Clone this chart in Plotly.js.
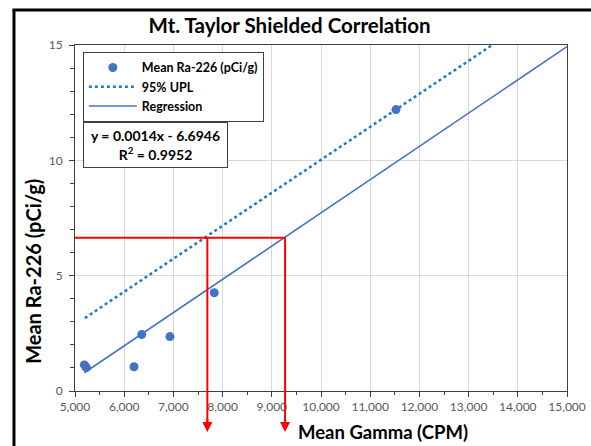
<!DOCTYPE html>
<html>
<head>
<meta charset="utf-8">
<script src="https://cdn.plot.ly/plotly-3.0.1.min.js"></script>
<style>
html,body{margin:0;padding:0;background:#fff;}
#chart{width:591px;height:446px;}
</style>
</head>
<body>
<div id="chart"></div>
<script>
// ---- data ----
const gammaCPM = [5190, 5230, 6200, 6356, 6930, 7830, 11525];
const ra226 = [1.13, 1.02, 1.05, 2.45, 2.36, 4.26, 12.2];

const uplX = [5200, 13480];
const uplY = [3.16, 15];

const regX = [5190, 15000];
const regY = [0.79, 14.93];

const targetRa = 6.64;            // red horizontal guide
const targetGamma = [7690, 9270]; // red vertical guides (UPL, regression)

const equationText = 'y = 0.0014x - 6.6946<br>R<sup>2</sup> = 0.9952';
const titleText = 'Mt. Taylor Shielded Correlation';
const xTitle = 'Mean Gamma (CPM)';
const yTitle = 'Mean Ra-226 (pCi/g)';

const FONT = 'Lato, "Open Sans", sans-serif';
const blue = '#4472C4';
const dotBlue = '#1F78C8';
const red = '#FF0000';

const traces = [
  {x: uplX, y: uplY, mode: 'lines', name: '95% UPL', legendrank: 2,
   line: {color: dotBlue, width: 2.5, dash: 'dot'}},
  {x: regX, y: regY, mode: 'lines', name: 'Regression', legendrank: 3,
   line: {color: blue, width: 1.6}},
  {x: gammaCPM, y: ra226, mode: 'markers', name: 'Mean Ra-226 (pCi/g)', legendrank: 1,
   marker: {color: blue, size: 9}}
];

const shapes = [
  // chart frame (left and top)
  {type: 'line', xref: 'paper', yref: 'paper', x0: -0.124, x1: -0.124, y0: 1.101, y1: -0.25,
   line: {color: '#000', width: 3}},
  {type: 'line', xref: 'paper', yref: 'paper', x0: -0.127, x1: 1.1, y0: 1.101, y1: 1.101,
   line: {color: '#000', width: 3}},
  // red guides
  {type: 'line', xref: 'x', yref: 'y', x0: 5000, x1: targetGamma[1], y0: targetRa, y1: targetRa,
   line: {color: red, width: 2}, layer: 'above'},
  {type: 'line', xref: 'x', yref: 'paper', x0: targetGamma[0], x1: targetGamma[0], y0: targetRa / 15, y1: -0.09,
   line: {color: red, width: 2}, layer: 'above'},
  {type: 'line', xref: 'x', yref: 'paper', x0: targetGamma[1], x1: targetGamma[1], y0: targetRa / 15, y1: -0.09,
   line: {color: red, width: 2}, layer: 'above'}
];

const annotations = [
  {text: equationText, xref: 'paper', yref: 'paper', x: 0.016, y: 0.777, xanchor: 'left', yanchor: 'top',
   showarrow: false, bgcolor: '#fff', bordercolor: '#404040', borderwidth: 1, borderpad: 2,
   width: 139, height: 40, align: 'center', valign: 'middle',
   font: {family: FONT, size: 14, color: '#000', weight: 'bold'}},
  {text: xTitle, xref: 'paper', yref: 'paper', x: 0.626, y: -0.118, xanchor: 'center', yanchor: 'middle',
   showarrow: false, font: {family: FONT, size: 18.5, color: '#000', weight: 'bold'}},
  {text: yTitle, xref: 'paper', yref: 'paper', x: -0.087, y: 0.345, xanchor: 'center', yanchor: 'middle',
   textangle: -90, showarrow: false, font: {family: FONT, size: 20, color: '#000', weight: 'bold'}}
];
targetGamma.forEach(g => {
  annotations.push({text: ' ', xref: 'x', yref: 'paper', x: g, y: -0.1185, ax: 0, ay: -16,
    showarrow: true, arrowhead: 2, arrowsize: 1, arrowwidth: 2, arrowcolor: red,
    font: {size: 2}});
});

const tickFont = {family: FONT, size: 12, color: '#595959'};

const layout = {
  width: 591, height: 446,
  margin: {l: 75, r: 24, t: 45, b: 55, pad: 0},
  paper_bgcolor: '#fff', plot_bgcolor: '#fff',
  title: {text: titleText, x: 0.49, xref: 'container', xanchor: 'center',
          y: 0.942, yref: 'container', yanchor: 'middle',
          font: {family: FONT, size: 20.5, color: '#000', weight: 'bold'}},
  showlegend: true,
  legend: {x: 0.016, y: 0.98, xanchor: 'left', yanchor: 'top', bgcolor: '#fff',
           bordercolor: '#404040', borderwidth: 1, traceorder: 'normal',
           font: {family: FONT, size: 12.5, color: '#000', weight: 'bold'},
           tracegroupgap: 0, itemwidth: 48},
  xaxis: {range: [5000, 15000], dtick: 1000, tick0: 5000, tickformat: ',d',
          showgrid: true, gridcolor: '#d9d9d9', gridwidth: 1, zeroline: false,
          showline: true, linecolor: '#404040', linewidth: 1, mirror: true,
          ticks: 'outside', ticklen: 5, tickcolor: '#404040',
          minor: {dtick: 500, ticks: 'outside', ticklen: 3, tickcolor: '#404040', showgrid: false},
          tickfont: tickFont},
  yaxis: {range: [0, 15], dtick: 5, tick0: 0,
          showgrid: true, gridcolor: '#d9d9d9', gridwidth: 1, zeroline: false,
          showline: true, linecolor: '#404040', linewidth: 1, mirror: true,
          ticks: 'outside', ticklen: 5, tickcolor: '#404040', ticklabelstandoff: 4,
          minor: {dtick: 1, ticks: 'outside', ticklen: 4, tickcolor: '#404040', showgrid: false},
          tickfont: tickFont},
  shapes: shapes,
  annotations: annotations
};

Plotly.newPlot('chart', traces, layout, {displayModeBar: false, staticPlot: true});
</script>
</body>
</html>
